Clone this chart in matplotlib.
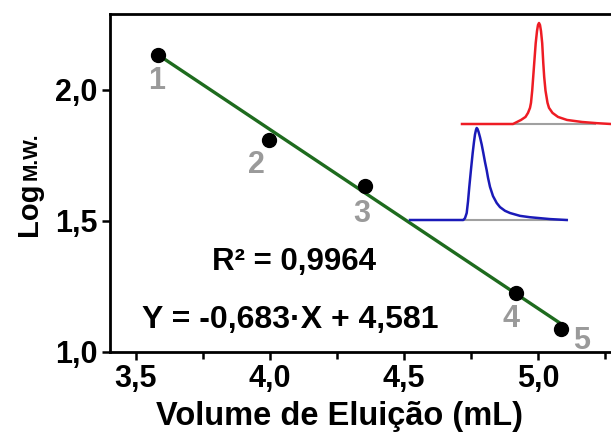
import matplotlib
matplotlib.use("Agg")
import matplotlib.pyplot as plt
from matplotlib.ticker import MultipleLocator, FuncFormatter

plt.rcParams['font.family'] = ['Liberation Sans', 'DejaVu Sans']
plt.rcParams['font.weight'] = 'bold'

# Calibration standards: elution volume (mL) vs log molecular weight
volume = [3.582, 3.996, 4.354, 4.918, 5.086]
log_mw = [2.134, 1.809, 1.634, 1.225, 1.088]
point_ids = ["1", "2", "3", "4", "5"]

# Linear fit
slope = -0.683
intercept = 4.581
r_squared = 0.9964

x_ticks = [3.5, 4.0, 4.5, 5.0]
y_ticks = [1.0, 1.5, 2.0]

# Chromatogram traces (relative elution, normalised absorbance)
red_x = [0.0, 5.1, 5.4, 5.9, 6.35, 6.6, 6.8, 6.9, 7.02, 7.12, 7.22, 7.37, 7.5, 7.6,
         7.7, 7.8, 7.9, 8.02, 8.13, 8.22, 8.35, 8.55, 8.7, 9.05, 9.6, 10.5, 12.0,
         13.5, 14.9]
red_y = [0.0, 0.0, 0.015, 0.04, 0.07, 0.11, 0.16, 0.21, 0.33, 0.465, 0.6, 0.8, 0.92,
         0.98, 1.0, 0.98, 0.92, 0.8, 0.6, 0.465, 0.33, 0.21, 0.16, 0.11, 0.07, 0.04,
         0.02, 0.008, 0.0]
blue_x = [0.0, 5.33, 5.5, 5.67, 5.8, 5.93, 6.1, 6.27, 6.4, 6.5, 6.6, 6.67, 6.75,
          6.85, 7.0, 7.17, 7.33, 7.5, 7.67, 7.8, 8.0, 8.3, 8.67, 9.0, 9.5, 10.0,
          11.0, 12.0, 13.0, 14.0, 15.67]
blue_y = [0.0, 0.0, 0.02, 0.076, 0.2, 0.36, 0.55, 0.73, 0.85, 0.93, 0.98, 1.0, 0.99,
          0.96, 0.9, 0.82, 0.73, 0.63, 0.54, 0.46, 0.36, 0.26, 0.185, 0.14, 0.1,
          0.076, 0.045, 0.03, 0.02, 0.01, 0.0]

W, H = 611, 443
fig = plt.figure(figsize=(W / 100, H / 100), dpi=100)

ax = fig.add_axes([110 / W, (H - 352) / H, (W - 110) / W + 0.01, (352 - 14) / H])
ax.set_xlim(3.403, 5.272 + 0.01 * W / 268)
ax.set_ylim(1.0, 2.29)

for s in ('left', 'bottom', 'top'):
    ax.spines[s].set_linewidth(2.0)
ax.spines['right'].set_visible(False)

ax.xaxis.set_minor_locator(MultipleLocator(0.25))
ax.set_yticks(y_ticks)
ax.set_xticks(x_ticks)
comma = FuncFormatter(lambda v, p: f"{v:.1f}".replace(".", ","))
ax.xaxis.set_major_formatter(comma)
ax.yaxis.set_major_formatter(comma)
ax.tick_params(axis='both', which='major', direction='out', length=6, width=1.8,
               labelsize=22, pad=3)
ax.tick_params(axis='x', which='minor', direction='out', length=5, width=1.8)
for lbl in ax.get_xticklabels() + ax.get_yticklabels():
    lbl.set_fontweight('bold')

# Fit line between first and last standards
fx = [min(volume), max(volume)]
fy = [slope * v + intercept for v in fx]
ax.plot(fx, fy, color='#1e6b1e', lw=2.4, zorder=2, solid_capstyle='butt')
ax.plot(volume, log_mw, 'o', color='black', ms=10, zorder=3, clip_on=False)

label_offsets = [(-1, -19), (-9, -18), (-2, -20), (-4, -19), (15, -9)]
for v, m, t, (dx, dy) in zip(volume, log_mw, point_ids, label_offsets):
    ax.annotate(t, (v, m), xytext=(dx, dy), textcoords='offset points',
                ha='center', va='center', fontsize=22, fontweight='bold',
                color='#9a9a9a', annotation_clip=False)

ax.text(0.362, 0.243, f"R² = {r_squared:.4f}".replace(".", ","), transform=ax.transAxes,
        ha='center', va='baseline', fontsize=22.5, fontweight='bold')
ax.text(0.355, 0.071,
        f"Y = {slope:.3f}·X + {intercept:.3f}".replace(".", ","),
        transform=ax.transAxes, ha='center', va='baseline', fontsize=23, fontweight='bold')

fig.text(340 / W, (H - 425) / H, "Volume de Eluição (mL)", ha='center', va='baseline',
         fontsize=23.5, fontweight='bold')

# Y label: "Log" with smaller "M.W."
fig.text(37 / W, (H - 236) / H, "Log", rotation=90, rotation_mode='anchor',
         ha='left', va='baseline', fontsize=21, fontweight='bold')
fig.text(37 / W, (H - 180) / H, "M.W.", rotation=90, rotation_mode='anchor',
         ha='left', va='baseline', fontsize=15, fontweight='bold')

# Chromatogram insets
red_ax = fig.add_axes([462 / W, (H - 124) / H, 149 / W, 101 / H])
red_ax.set_xlim(0, 14.9)
red_ax.set_ylim(0, 1)
red_ax.plot([5.1, 13.3], [0, 0], color='#a0a0a0', lw=1.5, clip_on=False)
red_ax.plot(red_x, red_y, color='#ee1c24', lw=1.8, clip_on=False,
            solid_joinstyle='round')
red_ax.axis('off')

blue_ax = fig.add_axes([410 / W, (H - 220) / H, 156.7 / W, 92 / H])
blue_ax.set_xlim(0, 15.67)
blue_ax.set_ylim(0, 1)
blue_ax.plot([5.33, 15.67], [0, 0], color='#a0a0a0', lw=1.5, clip_on=False)
blue_ax.plot(blue_x, blue_y, color='#1a1ab8', lw=1.8, clip_on=False,
             solid_joinstyle='round')
blue_ax.axis('off')

fig.savefig("out.png", dpi=100)
